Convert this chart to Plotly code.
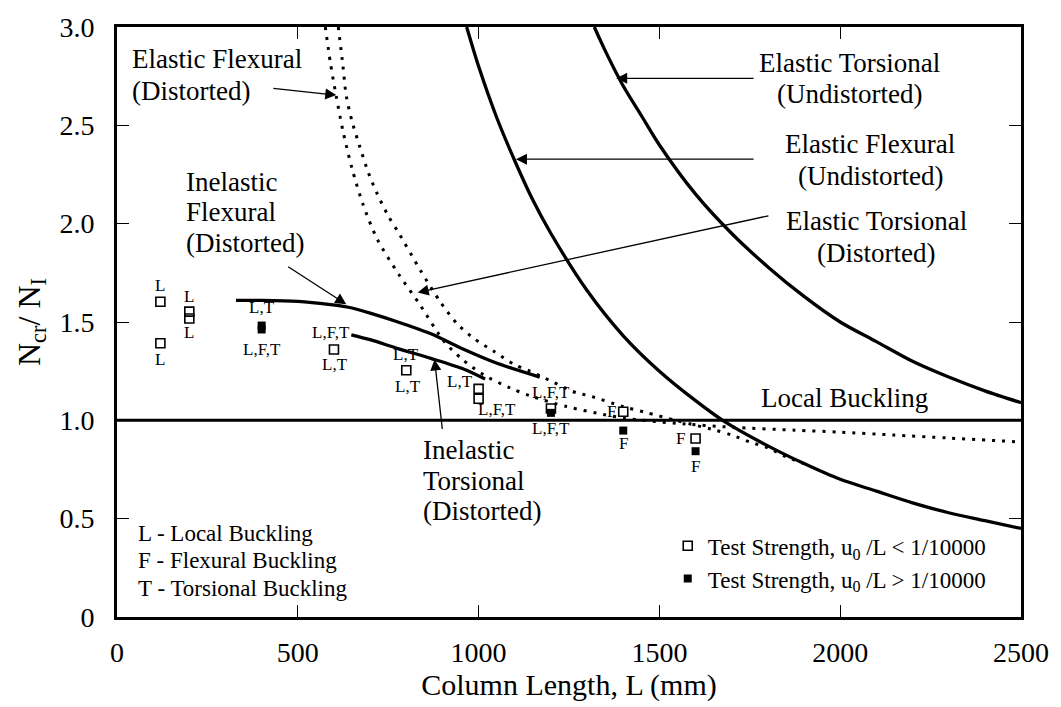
import plotly.graph_objects as go

# ---------------- data ----------------
# Elastic flexural buckling, undistorted (solid)
flex_undist_L = [967, 1000, 1050, 1100, 1150, 1200, 1300, 1400, 1500, 1600, 1675,
                 1800, 1900, 2000, 2100, 2200, 2300, 2400, 2500]
flex_undist_v = [3.0, 2.80, 2.54, 2.32, 2.12, 1.95, 1.66, 1.43, 1.25, 1.10, 1.00,
                 0.87, 0.78, 0.70, 0.64, 0.58, 0.53, 0.49, 0.45]

# Elastic torsional buckling, undistorted (solid)
tors_undist_L = [1320, 1350, 1400, 1450, 1500, 1600, 1700, 1800, 1900, 2000,
                 2100, 2200, 2300, 2400, 2500]
tors_undist_v = [3.0, 2.88, 2.70, 2.55, 2.40, 2.15, 1.95, 1.78, 1.63, 1.50,
                 1.40, 1.30, 1.22, 1.15, 1.09]

# Elastic torsional buckling, distorted (dotted)
tors_dist_L = [576, 590, 606, 625, 650, 680, 720, 780, 837, 905, 955, 1015, 1087,
               1142, 1243, 1345, 1408, 1545, 1700, 1874, 2000, 2149, 2300, 2500]
tors_dist_v = [3.0, 2.82, 2.65, 2.47, 2.28, 2.10, 1.92, 1.74, 1.59, 1.40, 1.31, 1.23,
               1.165, 1.125, 1.07, 1.03, 1.01, 0.985, 0.965, 0.95, 0.94, 0.925, 0.91, 0.89]

# Elastic flexural buckling, distorted (dotted)
flex_dist_L = [612, 625, 634, 650, 670, 695, 720, 750, 780, 840, 895, 941, 988, 1043,
               1098, 1142, 1183, 1270, 1306, 1400, 1463, 1545, 1600, 1655, 1700, 1750,
               1800, 1850, 1900]
flex_dist_v = [3.0, 2.80, 2.65, 2.52, 2.40, 2.26, 2.15, 2.04, 1.95, 1.76, 1.60, 1.49,
               1.415, 1.35, 1.285, 1.25, 1.215, 1.14, 1.125, 1.07, 1.04, 1.00, 0.975,
               0.95, 0.925, 0.89, 0.86, 0.815, 0.78]

# Inelastic flexural buckling, distorted (solid)
inel_flex_L = [329, 400, 500, 585, 640, 700, 777, 868, 960, 1051, 1169]
inel_flex_v = [1.61, 1.61, 1.605, 1.59, 1.575, 1.545, 1.50, 1.44, 1.36, 1.29, 1.22]

# Inelastic torsional buckling, distorted (solid)
inel_tors_L = [648, 700, 777, 868, 960, 1018]
inel_tors_v = [1.435, 1.41, 1.365, 1.315, 1.26, 1.21]

# Local buckling (solid horizontal)
local_L = [0, 2500]
local_v = [1.0, 1.0]

# Test strengths
open_L = [120, 120, 200, 200, 600, 800, 1000, 1000, 1200, 1400, 1600]
open_v = [1.603, 1.392, 1.553, 1.518, 1.36, 1.255, 1.16, 1.11, 1.06, 1.044, 0.908]
filled_L = [400, 400, 1200, 1400, 1600]
filled_v = [1.482, 1.462, 1.038, 0.948, 0.843]

# failure-mode labels: (series, index, text)
point_labels = [
    ("open", 0, "L"), ("open", 1, "L"), ("open", 2, "L"), ("open", 3, "L"),
    ("filled", 0, "L,T"), ("filled", 1, "L,F,T"),
    ("open", 4, "L,F,T"), ("open", 4, "L,T"),
    ("open", 5, "L,T"), ("open", 5, "L,T"),
    ("open", 6, "L,T"), ("open", 7, "L,F,T"),
    ("open", 8, "L,F,T"), ("filled", 2, "L,F,T"),
    ("open", 9, "F"), ("filled", 3, "F"),
    ("open", 10, "F"), ("filled", 4, "F"),
]
# pixel offsets of those labels from their points
label_offsets = [
    (0, -16), (0, 16), (0, -15), (0, 14),
    (0, -18), (0, 20),
    (-3, -17), (1, 15),
    (0, -16), (2, 16),
    (-19, -7), (18, 11),
    (0, -16), (0, 16),
    (-12, 0), (0, 13),
    (-15, 0), (0, 15),
]

x_ticks = [0, 500, 1000, 1500, 2000, 2500]
y_ticks = [0, 0.5, 1.0, 1.5, 2.0, 2.5, 3.0]
y_ticktext = ["0", "0.5", "1.0", "1.5", "2.0", "2.5", "3.0"]

# ---------------- figure ----------------
FONT = "Liberation Serif"
W, H = 1061, 707
PL, PR, PT, PB = 117, 1028, 21, 619   # plot-area pixel box
XMAX, YMAX = 2500, 3.0


def px2x(px):
    return (px - PL) / (PR - PL) * XMAX


def py2y(py):
    return (PB - py) / (PB - PT) * YMAX


fig = go.Figure()


def curve(L, v, dash=None, width=3.3):
    fig.add_trace(go.Scatter(
        x=L, y=v, mode="lines", showlegend=False, hoverinfo="skip",
        line=dict(color="black", width=width, dash=dash, shape="spline", smoothing=0.8)))


DOT = "3px,7px"
curve(local_L, local_v, width=3)
curve(flex_undist_L, flex_undist_v)
curve(tors_undist_L, tors_undist_v)
curve(tors_dist_L, tors_dist_v, dash=DOT, width=3)
curve(flex_dist_L, flex_dist_v, dash=DOT, width=3)
curve(inel_flex_L, inel_flex_v)
curve(inel_tors_L, inel_tors_v)

fig.add_trace(go.Scatter(
    x=open_L, y=open_v, mode="markers",
    name="Test Strength, u<sub>0</sub> /L &lt; 1/10000",
    marker=dict(symbol="square-open", size=9, color="black", line=dict(width=1.6))))
fig.add_trace(go.Scatter(
    x=filled_L, y=filled_v, mode="markers",
    name="Test Strength, u<sub>0</sub> /L &gt; 1/10000",
    marker=dict(symbol="square", size=8, color="black")))

series = {"open": (open_L, open_v), "filled": (filled_L, filled_v)}
for (s, i, t), (dx, dy) in zip(point_labels, label_offsets):
    xs, ys = series[s]
    fig.add_annotation(x=xs[i], y=ys[i], text=t, showarrow=False,
                       xshift=dx, yshift=-dy,
                       font=dict(family=FONT, size=17, color="black"))


def text_block(lines, px, pys, size=27, anchor="left"):
    for t, py in zip(lines, pys):
        fig.add_annotation(x=px2x(px), y=py2y(py), text=t, showarrow=False,
                           xanchor=anchor, yanchor="middle",
                           font=dict(family=FONT, size=size, color="black"))


text_block(["Elastic Flexural", "(Distorted)"], 130, [53, 86])
text_block(["Elastic Torsional", "(Undistorted)"], 855, [57, 89], anchor="center")
text_block(["Elastic Flexural", "(Undistorted)"], 876, [140, 172], anchor="center")
text_block(["Elastic Torsional", "(Distorted)"], 882, [218, 250], anchor="center")
text_block(["Inelastic", "Flexural", "(Distorted)"], 185, [178, 209, 240])
text_block(["Inelastic", "Torsional", "(Distorted)"], 423, [450, 481, 512])
text_block(["Local Buckling"], 850, [397], anchor="center")
text_block(["L - Local Buckling", "F - Flexural Buckling", "T - Torsional Buckling"],
           136, [534, 562, 590], size=23)


def arrow(tail, head):
    fig.add_annotation(x=px2x(head[0]), y=py2y(head[1]),
                       ax=px2x(tail[0]), ay=py2y(tail[1]),
                       axref="x", ayref="y", xref="x", yref="y",
                       text="", showarrow=True, arrowhead=2, arrowsize=1.7,
                       arrowwidth=1.3, arrowcolor="black")


arrow((273, 83), (338, 90))      # elastic flexural distorted
arrow((760, 73), (620, 73))      # elastic torsional undistorted
arrow((760, 155), (519, 155))    # elastic flexural undistorted
arrow((775, 212), (420, 290))    # elastic torsional distorted
arrow((288, 263), (348, 302))    # inelastic flexural distorted
arrow((445, 430), (437, 358))    # inelastic torsional distorted

axis_common = dict(
    showline=True, linecolor="black", linewidth=3, mirror="ticks",
    ticks="inside", ticklen=12, tickwidth=1, tickcolor="black",
    showgrid=False, zeroline=False,
    tickfont=dict(family=FONT, size=28, color="black"),
)

fig.update_xaxes(range=[0, XMAX], tickvals=x_ticks, ticklabelstandoff=8,
                 title=dict(text="Column Length, L (mm)", standoff=6,
                            font=dict(family=FONT, size=30, color="black")),
                 **axis_common)
fig.update_yaxes(range=[0, YMAX], tickvals=y_ticks, ticktext=y_ticktext,
                 ticklabelstandoff=14,
                 title=dict(text="N<sub>cr</sub>/ N<sub>I</sub>", standoff=10,
                            font=dict(family=FONT, size=32, color="black")),
                 **axis_common)

fig.update_layout(
    width=W, height=H,
    margin=dict(l=PL, r=W - PR, t=PT, b=H - PB),
    plot_bgcolor="white", paper_bgcolor="white",
    font=dict(family=FONT, color="black"),
    showlegend=True,
    legend=dict(x=(672 - PL) / (PR - PL), y=(PB - 525) / (PB - PT),
                xanchor="left", yanchor="top", bgcolor="rgba(0,0,0,0)",
                borderwidth=0, tracegroupgap=0,
                font=dict(family=FONT, size=23, color="black")),
)

fig.write_html("out.html")
